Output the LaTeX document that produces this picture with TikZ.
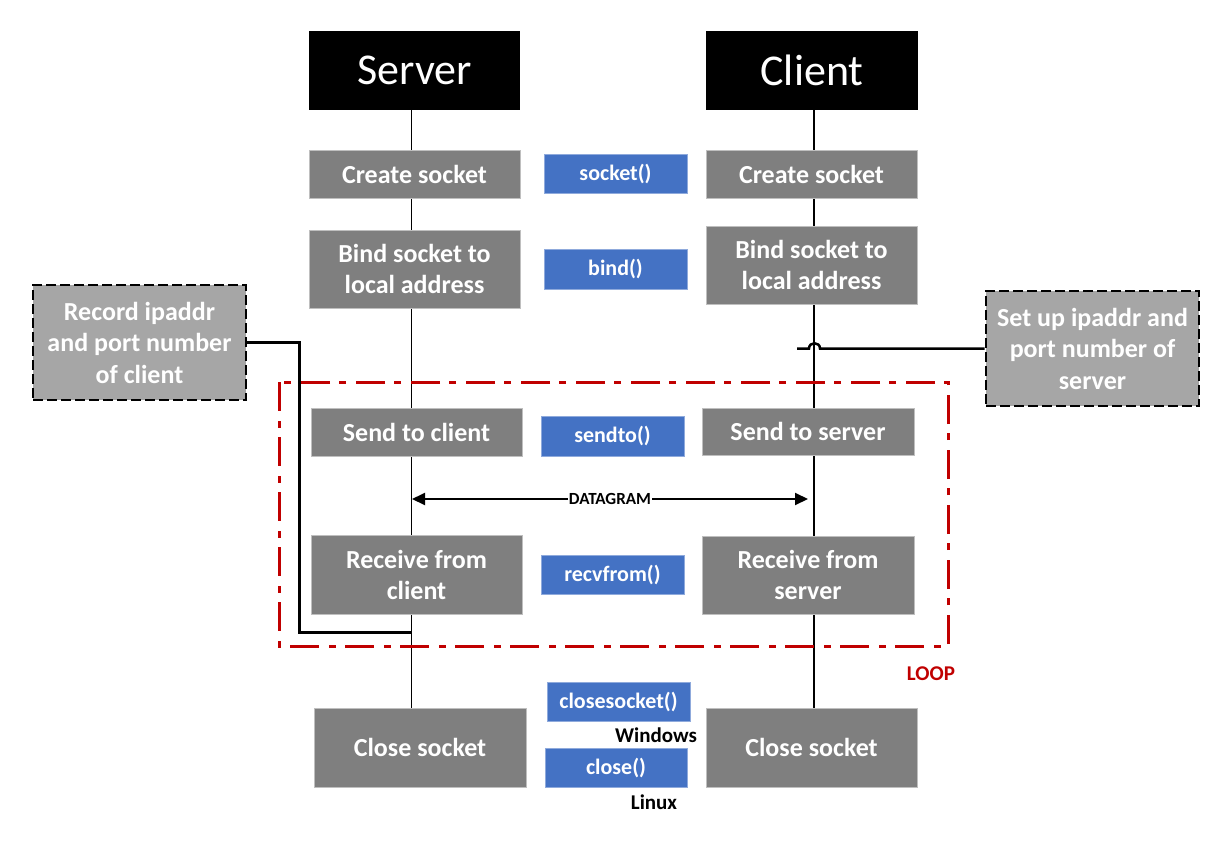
\documentclass[tikz,border=0pt]{standalone}
\usepackage{fontspec}
\setmainfont{Carlito}
\usetikzlibrary{arrows.meta,backgrounds}

\definecolor{actgray}{HTML}{7F7F7F}
\definecolor{actline}{HTML}{BFBFBF}
\definecolor{callblue}{HTML}{4472C4}
\definecolor{callline}{HTML}{8FAADC}
\definecolor{notegray}{HTML}{A6A6A6}
\definecolor{loopred}{HTML}{C00000}

\begin{document}
\begin{tikzpicture}[x=1pt,y=-1pt,
  head/.style={fill=black,text=white,inner sep=0pt,minimum width=211pt,minimum height=79pt,font=\fontsize{44}{50}\selectfont},
  act/.style={fill=actgray,draw=actline,line width=1pt,text=white,inner sep=0pt,align=center,minimum width=211pt,font=\bfseries\fontsize{26}{31}\selectfont},
  call/.style={fill=callblue,draw=callline,line width=1pt,text=white,inner sep=0pt,minimum width=143pt,minimum height=39pt,font=\bfseries\fontsize{22}{26}\selectfont},
  note/.style={fill=notegray,draw=black,line width=2.8pt,dash pattern=on 10pt off 4pt,text=white,inner sep=0pt,align=center,minimum width=213pt,minimum height=115pt,font=\bfseries\fontsize{26}{31.5}\selectfont},
  life/.style={line width=1.5pt},
  link/.style={line width=2.5pt},
  loopline/.style={draw=loopred,line width=3pt,dash pattern=on 29pt off 10pt on 7pt off 9pt},
  lbl/.style={font=\bfseries\fontsize{21}{25}\selectfont}]
  \useasboundingbox (0,0) rectangle (1231,859);

  % Headers
  \node[head] (sHead) at (414.5,70.5) {Server};
  \node[head,minimum width=212pt] (cHead) at (812,70.5) {Client};

  % Create socket
  \node[act,minimum height=48pt] (sCreate) at (414.5,174) {Create socket};
  \node[call] (fSocket) at (615.5,173.5) {socket()};
  \node[act,minimum height=48pt] (cCreate) at (811.5,174) {Create socket};

  % Bind
  \node[act,minimum height=78pt] (sBind) at (414.5,269) {Bind socket to\\local address};
  \node[call,minimum height=40pt] (fBind) at (615.5,269) {bind()};
  \node[act,minimum height=78pt] (cBind) at (811.5,265) {Bind socket to\\local address};

  % Side notes
  \node[note] (rec) at (139.5,342.5) {Record ipaddr\\and port number\\of client};
  \node[note] (setup) at (1092.5,348.5) {Set up ipaddr and\\port number of\\server};

  % Send
  \node[act,minimum height=48pt] (sSend) at (416.5,432) {Send to client};
  \node[call,minimum height=40pt] (fSend) at (612.5,436) {sendto()};
  \node[act,minimum width=212pt,minimum height=47pt] (cSend) at (808,431.5) {Send to server};

  % Receive
  \node[act,minimum height=79pt] (sRecv) at (416.5,574.5) {Receive from\\client};
  \node[call] (fRecv) at (612.5,574.5) {recvfrom()};
  \node[act,minimum width=212pt,minimum height=78pt] (cRecv) at (808,575) {Receive from\\server};

  % Close
  \node[act,minimum width=212pt,minimum height=79pt] (sClose) at (420,747.5) {Close socket};
  \node[call] (fCloseW) at (618.5,701.5) {closesocket()};
  \node[lbl] (win) at (656,735) {Windows};
  \node[call,minimum width=142pt] (fCloseL) at (616,767.5) {close()};
  \node[lbl] (lin) at (654,802) {Linux};
  \node[act,minimum height=79pt] (cClose) at (811.5,747.5) {Close socket};

  % Lifelines
  \coordinate (sx) at (411.5,0);
  \coordinate (cx) at (814,0);
  \begin{scope}[on background layer]
    \draw[life] (sHead.south -| sx) -- (sClose.north -| sx);
    \draw[life] (cHead.south -| cx) -- (cClose.north -| cx);
  \end{scope}

  % Loop frame
  \draw[loopline] (279,382) rectangle (948,646);
  \node[lbl,text=loopred] (loopLbl) at (931,674) {LOOP};

  % Datagram
  \coordinate (dgL) at (412,499);
  \coordinate (dgR) at (808,499);
  \draw[{Triangle[length=13pt,width=12pt]}-{Triangle[length=13pt,width=12pt]},line width=2pt] (dgL) -- node[fill=white,inner sep=1pt,font=\bfseries\fontsize{17}{19}\selectfont] (dgLbl) {DATAGRAM} (dgR);

  % Note connectors
  \coordinate (recEnd) at (411.5,632.5);
  \draw[link] (rec.east) -- ++(52,0) |- (recEnd);
  \coordinate (setEnd) at (797,348.5);
  \draw[link] (setup.west) -- (820,348.5) .. controls (820,341.5) and (809,341.5) .. (809,348.5) -- (setEnd);
\end{tikzpicture}
\end{document}
